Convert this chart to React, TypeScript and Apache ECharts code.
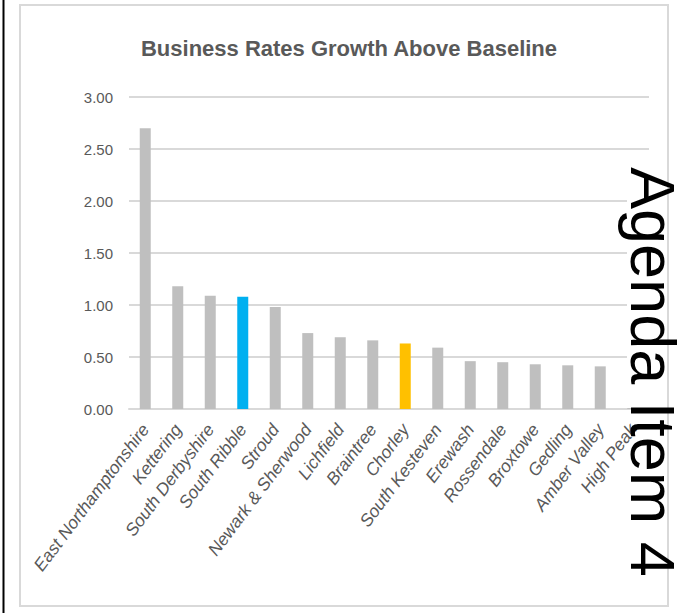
import React, { useEffect, useRef } from "react";
import * as echarts from "echarts";

const categories = [
  "East Northamptonshire",
  "Kettering",
  "South Derbyshire",
  "South Ribble",
  "Stroud",
  "Newark & Sherwood",
  "Lichfield",
  "Braintree",
  "Chorley",
  "South Kesteven",
  "Erewash",
  "Rossendale",
  "Broxtowe",
  "Gedling",
  "Amber Valley",
  "High Peak",
];

const values = [2.7, 1.18, 1.09, 1.08, 0.98, 0.73, 0.69, 0.66, 0.63, 0.59, 0.46, 0.45, 0.43, 0.42, 0.41, 0.4];

const yTicks = ["0.00", "0.50", "1.00", "1.50", "2.00", "2.50", "3.00"];

const titleText = "Business Rates Growth Above Baseline";
const stampText = "Agenda Item 4";

const highlight: Record<string, string> = {
  "South Ribble": "#00b0f0",
  Chorley: "#ffc000",
};

const FONT = "'Liberation Sans', Arial, sans-serif";

export default function App() {
  const ref = useRef<HTMLDivElement>(null);

  useEffect(() => {
    if (!ref.current) return;
    const chart = echarts.init(ref.current, undefined, { renderer: "svg" });
    const yMax = parseFloat(yTicks[yTicks.length - 1]);
    const yStep = parseFloat(yTicks[1]) - parseFloat(yTicks[0]);
    chart.setOption({
      animation: false,
      backgroundColor: "#ffffff",
      title: {
        text: titleText,
        left: 344,
        textAlign: "center",
        top: 32,
        textStyle: {
          fontFamily: FONT,
          fontWeight: "bold",
          fontSize: 22,
          color: "#595959",
        },
      },
      grid: { left: 129, right: 32, top: 97, bottom: 204, containLabel: false },
      xAxis: {
        type: "category",
        data: categories,
        axisTick: { show: false },
        axisLine: { lineStyle: { color: "#d9d9d9", width: 2 } },
        axisLabel: {
          interval: 0,
          rotate: 53,
          margin: 17,
          fontFamily: FONT,
          fontStyle: "italic",
          fontSize: 17.5,
          color: "#595959",
        },
      },
      yAxis: {
        type: "value",
        min: 0,
        max: yMax,
        interval: yStep,
        axisLine: { show: false },
        axisTick: { show: false },
        splitLine: { lineStyle: { color: "#d9d9d9", width: 2 } },
        axisLabel: {
          margin: 16,
          fontFamily: FONT,
          fontSize: 15,
          color: "#595959",
          formatter: (v: number) => v.toFixed(2),
        },
      },
      series: [
        {
          type: "bar",
          barWidth: 11,
          data: values.map((v, i) => ({
            value: v,
            itemStyle: { color: highlight[categories[i]] || "#bfbfbf" },
          })),
        },
      ],
      graphic: [
        {
          type: "line",
          z: 100,
          shape: { x1: 3.5, y1: 0, x2: 3.5, y2: 613 },
          style: { stroke: "#000000", lineWidth: 2 },
        },
        {
          type: "rect",
          z: 100,
          shape: { x: 20, y: 5, width: 648, height: 601 },
          style: { fill: "none", stroke: "#d9d9d9", lineWidth: 2 },
        },
        {
          type: "rect",
          z: 101,
          shape: { x: 627, y: 163, width: 34, height: 245 },
          style: { fill: "#ffffff" },
        },
        {
          type: "text",
          z: 102,
          x: 653,
          y: 167,
          rotation: -Math.PI / 2,
          style: {
            text: stampText,
            fontFamily: "'Liberation Sans', Arial, sans-serif",
            fontSize: 63,
            lineHeight: 54,
            fill: "#000000",
            align: "left",
            verticalAlign: "middle",
          },
        },
      ],
    });
    return () => chart.dispose();
  }, []);

  return (
    <div
      ref={ref}
      style={{ position: "fixed", left: 0, top: 0, width: 681, height: 613 }}
    />
  );
}
